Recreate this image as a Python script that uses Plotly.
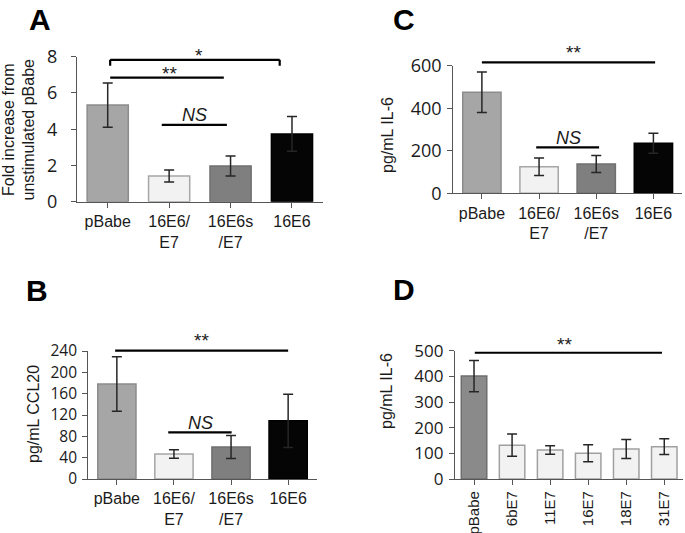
import plotly.graph_objects as go

W, H = 685, 533

# ---------------- data ----------------
cats_abc = ["pBabe", "16E6/<br>E7", "16E6s<br>/E7", "16E6"]
cats_d = ["pBabe", "6bE7", "11E7", "16E7", "18E7", "31E7"]

a_vals = [5.33, 1.42, 1.97, 3.74]
a_errs = [1.22, 0.33, 0.55, 0.96]
c_vals = [475, 125, 138, 235]
c_errs = [95, 41, 40, 47]
b_vals = [178, 47, 60, 109]
b_errs = [51, 8, 21.5, 50]
d_vals = [401, 132, 113, 100, 117, 126]
d_errs = [61, 43, 17, 33, 37, 31]

a_ticks = [0, 2, 4, 6, 8]
c_ticks = [0, 200, 400, 600]
b_ticks = [0, 40, 80, 120, 160, 200, 240]
d_ticks = [0, 100, 200, 300, 400, 500]

fill_abc = ["#a6a6a6", "#f2f2f2", "#7f7f7f", "#050505"]
line_abc = ["#8c8c8c", "#a6a6a6", "#707070", "#000000"]
fill_d = ["#8a8a8a"] + ["#f2f2f2"] * 5
line_d = ["#6e6e6e"] + ["#a0a0a0"] * 5

a_sig = [
    (0.04, 2.80, 7.83, "*", 1.49, 8.05, 7.5),
    (0.04, 1.89, 6.85, "**", 1.01, 7.06, None),
    (0.88, 1.94, 4.24, "<i>NS</i>", 1.42, 4.79, None),
]
c_sig = [
    (0.00, 3.03, 616, "**", 1.60, 663, None),
    (0.95, 2.05, 216, "<i>NS</i>", 1.51, 258, None),
]
b_sig = [
    (-0.03, 3.00, 240.6, "**", 1.49, 260.6, None),
    (0.90, 2.01, 87.5, "<i>NS</i>", 1.47, 105.6, None),
]
d_sig = [
    (0.02, 4.94, 492, "**", 2.39, 526, None),
]

panels = {
    "A": (77, 322.7, 201.7, 56.7, 8),
    "C": (453.3, 682, 193.3, 65.7, 600),
    "B": (88.3, 316.7, 479, 351, 240),
    "D": (455, 683.3, 479, 350.7, 500),
}

FONT = "Liberation Sans, Arial, sans-serif"
NUMFONT = "Open Sans, Liberation Sans, sans-serif"
TXT = "#1a1a1a"
AX = "#555555"

fig = go.Figure()

# name, xaxis, yaxis, categories, values, errors, fills, lines, ticks, marks,
# tick-label standoff, x tick angle, category font size, number font size
spec = [
    ("A", "x", "y", cats_abc, a_vals, a_errs, fill_abc, line_abc, a_ticks, a_sig, 10, 0, 16, 18),
    ("C", "x2", "y2", cats_abc, c_vals, c_errs, fill_abc, line_abc, c_ticks, c_sig, 2, 0, 16, 18),
    ("B", "x3", "y3", cats_abc, b_vals, b_errs, fill_abc, line_abc, b_ticks, b_sig, 2, 0, 16, 15.5),
    ("D", "x4", "y4", cats_d, d_vals, d_errs, fill_d, line_d, d_ticks, d_sig, 2, -90, 15, 17),
]

shapes = []
annotations = []

for name, xa, ya, cats, vals, errs, fills, lines, ticks, sig, standoff, tangle, cfs, nfs in spec:
    xl, xr, y0p, ytp, ymax = panels[name]
    n = len(cats)
    fig.add_trace(go.Bar(
        x=list(range(n)), y=vals, xaxis=xa, yaxis=ya,
        marker=dict(color=fills, line=dict(color=lines, width=1.5)),
        error_y=dict(type="data", array=errs, color="#262626", thickness=1.5, width=5),
        showlegend=False, hoverinfo="skip",
    ))
    suffix = xa[1:]
    fig.layout["xaxis" + suffix] = dict(
        domain=[xl / W, xr / W], anchor=ya, range=[-0.5, n - 0.5], automargin=False,
        tickmode="array", tickvals=list(range(n)), ticktext=cats,
        tickson="boundaries", ticks="outside", ticklen=5, tickcolor=AX,
        showline=True, linecolor=AX, linewidth=1.2, showgrid=False, zeroline=False,
        tickangle=tangle,
        tickfont=dict(family=FONT, size=cfs, color=TXT),
    )
    fig.layout["yaxis" + suffix] = dict(
        domain=[1 - y0p / H, 1 - ytp / H], anchor=xa, range=[0, ymax], automargin=False,
        tickmode="array", tickvals=ticks,
        ticks="outside", ticklen=5, tickcolor=AX,
        showline=True, linecolor=AX, linewidth=1.2, showgrid=False, zeroline=False,
        ticklabelstandoff=standoff,
        tickfont=dict(family=NUMFONT, size=nfs, color=TXT),
    )
    xdom = xa + " domain"
    ydom = ya + " domain"

    def fx(v, n=n):
        return (v + 0.5) / n

    def fy(v, ymax=ymax):
        return v / ymax

    for (x0, x1, yv, txt, tx, ty, yend) in sig:
        shapes.append(dict(type="line", xref=xdom, yref=ydom,
                           x0=fx(x0), x1=fx(x1), y0=fy(yv), y1=fy(yv),
                           line=dict(color="#000000", width=2.2)))
        if yend is not None:
            for xe in (x0, x1):
                shapes.append(dict(type="line", xref=xdom, yref=ydom,
                                   x0=fx(xe), x1=fx(xe), y0=fy(yv), y1=fy(yend),
                                   line=dict(color="#000000", width=2.2)))
        annotations.append(dict(
            xref=xdom, yref=ydom, x=fx(tx), y=fy(ty), text=txt,
            showarrow=False, xanchor="center", yanchor="middle",
            font=dict(family=FONT, size=18 if "NS" in txt else 19, color=TXT),
        ))

for letter, px, py in [("A", 40, 19), ("C", 404, 20), ("B", 37, 290), ("D", 404, 289)]:
    annotations.append(dict(xref="paper", yref="paper", x=px / W, y=1 - py / H,
                            text="<b>" + letter + "</b>", showarrow=False,
                            xanchor="center", yanchor="middle",
                            font=dict(family=FONT, size=30, color="#000000")))

for txt, px, py in [
    ("Fold increase from<br>unstimulated pBabe", 19, 129.5),
    ("pg/mL IL-6", 387, 135),
    ("pg/mL CCL20", 33, 414),
    ("pg/mL IL-6", 386, 391),
]:
    annotations.append(dict(xref="paper", yref="paper", x=px / W, y=1 - py / H,
                            text=txt, showarrow=False, textangle=-90,
                            xanchor="center", yanchor="middle",
                            font=dict(family=FONT, size=16, color=TXT)))

fig.update_layout(
    width=W, height=H,
    margin=dict(l=0, r=0, t=0, b=0, pad=0, autoexpand=False),
    paper_bgcolor="white", plot_bgcolor="white",
    bargap=0.33, shapes=shapes, annotations=annotations,
)

# remove the default page margin so the figure sits at the window origin
page_js = "document.body.style.margin='0'; document.body.style.overflow='hidden';"
fig.write_html("out.html", post_script=page_js, config={"displayModeBar": False})
